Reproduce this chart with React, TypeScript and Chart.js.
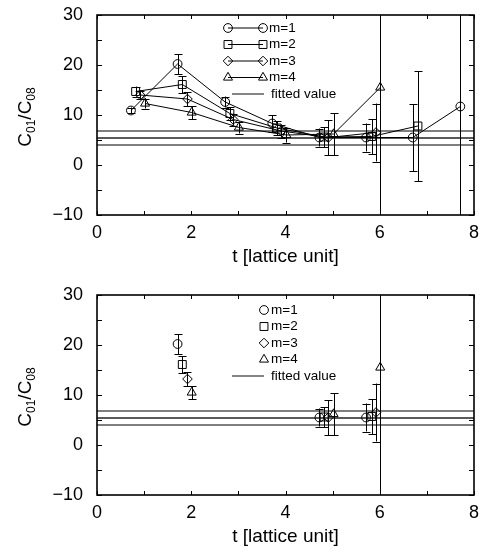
import React, { useEffect, useRef } from "react";
import { Chart, registerables } from "chart.js";
import { drawPoint } from "chart.js/helpers";

Chart.register(...registerables);

const FONT = "'Liberation Sans', Arial, Helvetica, sans-serif";

// ---- data ----
const seriesLabels = ["m=1", "m=2", "m=3", "m=4"];
const pointStyles = ["circle", "rect", "rectRot", "triangle"];
const pointRadii = [4.4, 5.6, 4.8, 5.2];

const tM1 = [0.72, 1.71, 2.72, 3.72, 4.72, 5.71, 6.7, 7.71];
const vM1 = [10.9, 20.2, 12.6, 8.3, 5.5, 5.5, 5.5, 11.7];
const eM1 = [0.6, 2.0, 1.1, 1.7, 1.8, 2.8, 6.7, 60];

const tM2 = [0.82, 1.81, 2.82, 3.82, 4.82, 5.83, 6.81];
const vM2 = [14.7, 16.1, 10.3, 7.4, 5.6, 5.7, 7.8];
const eM2 = [1.0, 1.7, 1.3, 1.4, 2.0, 3.5, 11.0];

const tM3 = [0.92, 1.92, 2.89, 3.91, 4.91, 5.92];
const vM3 = [14.0, 13.2, 9.1, 6.8, 5.5, 6.5];
const eM3 = [0.8, 1.4, 1.2, 1.3, 3.5, 5.8];

const tM4 = [1.02, 2.01, 3.01, 4.02, 5.02, 6.01];
const vM4 = [12.3, 10.5, 7.5, 6.0, 6.2, 15.5];
const eM4 = [1.0, 1.3, 1.2, 1.5, 4.2, 60];

// indices of points that are kept in the lower panel
const lowerPanelIdx = [1, 4, 5];

const fitValue = 5.4;
const fitError = 1.4;
const fitLabel = "fitted value";

const xTickLabels = [0, 2, 4, 6, 8];
const yTickLabels = [-10, 0, 10, 20, 30];
const xTitle = "t [lattice unit]";
const yTitleParts = ["C", "01", "/C", "08"];

const seriesT = [tM1, tM2, tM3, tM4];
const seriesV = [vM1, vM2, vM3, vM4];
const seriesE = [eM1, eM2, eM3, eM4];

// ---- layout constants ----
const PLOT_LEFT = 97;
const PLOT_TOP = 15;
const PLOT_BOTTOM = 215;
const RIGHT_PAD = 6;

const framePlugin = {
  id: "frameTicks",
  afterDraw(chart: any) {
    const { ctx, chartArea, scales } = chart;
    const { left, right, top, bottom } = chartArea;
    const x = scales.x;
    const y = scales.y;
    ctx.save();
    ctx.strokeStyle = "#000";
    ctx.lineWidth = 1;
    ctx.beginPath();
    x.ticks.forEach((t: any) => {
      const px = Math.round(x.getPixelForValue(t.value)) + 0.5;
      ctx.moveTo(px, bottom);
      ctx.lineTo(px, bottom - 4);
      ctx.moveTo(px, top);
      ctx.lineTo(px, top + 4);
    });
    y.ticks.forEach((t: any) => {
      const py = Math.round(y.getPixelForValue(t.value)) + 0.5;
      ctx.moveTo(left, py);
      ctx.lineTo(left + 5, py);
      ctx.moveTo(right, py);
      ctx.lineTo(right - 5, py);
    });
    ctx.stroke();
    ctx.lineWidth = 1.6;
    ctx.strokeRect(left, top, right - left, bottom - top);

    // x title
    ctx.fillStyle = "#000";
    ctx.font = `19px ${FONT}`;
    ctx.textAlign = "center";
    ctx.textBaseline = "middle";
    ctx.fillText(xTitle, (left + right) / 2, 257);

    // y title with subscripts, rotated
    const big = `19px ${FONT}`;
    const small = `12px ${FONT}`;
    const widths: number[] = yTitleParts.map((p, i) => {
      ctx.font = i % 2 === 0 ? big : small;
      return ctx.measureText(p).width;
    });
    const total = widths.reduce((a, b) => a + b, 0);
    ctx.translate(31, (top + bottom) / 2 + 2);
    ctx.rotate(-Math.PI / 2);
    ctx.textAlign = "left";
    ctx.textBaseline = "alphabetic";
    let cx = -total / 2;
    yTitleParts.forEach((p, i) => {
      ctx.font = i % 2 === 0 ? big : small;
      ctx.fillText(p, cx, i % 2 === 0 ? 0 : 4);
      cx += widths[i];
    });
    ctx.restore();
  },
};

const errorBarPlugin = {
  id: "errorBars",
  afterDatasetsDraw(chart: any) {
    const { ctx, chartArea, scales } = chart;
    const y = scales.y;
    ctx.save();
    ctx.beginPath();
    ctx.rect(chartArea.left, chartArea.top, chartArea.right - chartArea.left, chartArea.bottom - chartArea.top);
    ctx.clip();
    ctx.strokeStyle = "#000";
    ctx.lineWidth = 1;
    chart.data.datasets.forEach((ds: any, i: number) => {
      if (!ds.errorBars) return;
      const meta = chart.getDatasetMeta(i);
      ds.data.forEach((pt: any, j: number) => {
        const el = meta.data[j];
        const e = ds.errorBars[j];
        const px = Math.round(el.x) + 0.5;
        const yLo = y.getPixelForValue(pt.y - e);
        const yHi = y.getPixelForValue(pt.y + e);
        ctx.beginPath();
        ctx.moveTo(px, yLo);
        ctx.lineTo(px, yHi);
        ctx.moveTo(px - 4, Math.round(yLo) + 0.5);
        ctx.lineTo(px + 4, Math.round(yLo) + 0.5);
        ctx.moveTo(px - 4, Math.round(yHi) + 0.5);
        ctx.lineTo(px + 4, Math.round(yHi) + 0.5);
        ctx.stroke();
      });
    });
    ctx.restore();
  },
};

const legendPlugin = {
  id: "customLegend",
  afterDraw(chart: any) {
    const lower = chart.options.plugins.customLegend.lower;
    const { ctx } = chart;
    ctx.save();
    ctx.font = `13.5px ${FONT}`;
    ctx.textBaseline = "middle";
    ctx.textAlign = "left";
    ctx.fillStyle = "#000";
    ctx.strokeStyle = "#000";
    const rowStep = 16.5;
    const y0 = lower ? 30 : 28;
    seriesLabels.forEach((lab, i) => {
      const ry = y0 + i * rowStep;
      const opts = { pointStyle: pointStyles[i], rotation: 0, radius: pointRadii[i], borderWidth: 1 };
      ctx.lineWidth = 1;
      ctx.fillStyle = "rgba(0,0,0,0)";
      if (!lower) {
        ctx.beginPath();
        ctx.moveTo(228, ry);
        ctx.lineTo(263, ry);
        ctx.stroke();
        drawPoint(ctx, opts as any, 228, ry);
        drawPoint(ctx, opts as any, 263, ry);
      } else {
        drawPoint(ctx, opts as any, 264, ry);
      }
      ctx.fillStyle = "#000";
      ctx.fillText(lab, lower ? 271 : 269, ry);
    });
    const fy = y0 + 4 * rowStep;
    ctx.strokeStyle = "#333";
    ctx.lineWidth = 1.2;
    ctx.beginPath();
    ctx.moveTo(232, fy);
    ctx.lineTo(264, fy);
    ctx.stroke();
    ctx.fillStyle = "#000";
    ctx.fillText(fitLabel, 271, fy);
    ctx.restore();
  },
};

function makeConfig(lower: boolean, height: number): any {
  const datasets: any[] = [];
  seriesLabels.forEach((lab, i) => {
    const t = seriesT[i];
    const v = seriesV[i];
    const e = seriesE[i];
    const idx = lower ? lowerPanelIdx.filter((k) => k < t.length) : t.map((_, k) => k);
    datasets.push({
      label: lab,
      data: idx.map((k) => ({ x: t[k], y: v[k] })),
      errorBars: idx.map((k) => e[k]),
      showLine: !lower,
      borderColor: "#000",
      borderWidth: 1,
      pointStyle: pointStyles[i],
      pointRadius: pointRadii[i],
      pointBorderWidth: 1,
      pointBorderColor: "#000",
      pointBackgroundColor: "rgba(0,0,0,0)",
      backgroundColor: "rgba(0,0,0,0)",
      fill: false,
      tension: 0,
    });
  });
  [-1, 0, 1].forEach((k) => {
    datasets.push({
      label: k === 0 ? fitLabel : "",
      data: [
        { x: 0, y: fitValue + k * fitError },
        { x: 8, y: fitValue + k * fitError },
      ],
      showLine: true,
      borderColor: k === 0 ? "#222" : "#555",
      borderWidth: 1.3,
      pointRadius: 0,
      fill: false,
    });
  });

  return {
    type: "scatter",
    data: { datasets },
    options: {
      responsive: false,
      animation: false,
      devicePixelRatio: 1,
      events: [],
      layout: { autoPadding: false, padding: { top: PLOT_TOP, right: RIGHT_PAD, left: 0, bottom: 0 } },
      plugins: {
        legend: { display: false },
        tooltip: { enabled: false },
        customLegend: { lower },
      },
      scales: {
        x: {
          type: "linear",
          min: 0,
          max: 8,
          grid: { display: false, drawTicks: false },
          border: { display: false },
          ticks: {
            stepSize: 1,
            padding: 7,
            color: "#000",
            font: { family: FONT, size: 18 },
            maxRotation: 0,
            autoSkip: false,
            callback: (val: any) => (xTickLabels.includes(val) ? String(val) : ""),
          },
          afterFit: (scale: any) => {
            scale.height = height - PLOT_BOTTOM;
            scale.paddingLeft = 0;
            scale.paddingRight = 0;
          },
        },
        y: {
          type: "linear",
          min: -10,
          max: 30,
          grid: { display: false, drawTicks: false },
          border: { display: false },
          ticks: {
            stepSize: 5,
            padding: 14,
            color: "#000",
            font: { family: FONT, size: 18 },
            autoSkip: false,
            callback: (val: any) =>
              yTickLabels.includes(val) ? (val < 0 ? "\u2212" + Math.abs(val) : String(val)) : "",
          },
          afterFit: (scale: any) => {
            scale.width = PLOT_LEFT;
            scale.paddingTop = 0;
            scale.paddingBottom = 0;
          },
        },
      },
    },
    plugins: [errorBarPlugin, framePlugin, legendPlugin],
  };
}

function Panel({ lower, height, top }: { lower: boolean; height: number; top: number }) {
  const ref = useRef<HTMLCanvasElement>(null);
  useEffect(() => {
    const chart = new Chart(ref.current as HTMLCanvasElement, makeConfig(lower, height));
    return () => chart.destroy();
  }, [lower, height]);
  return (
    <canvas
      ref={ref}
      width={480}
      height={height}
      style={{ position: "absolute", left: 0, top, width: 480, height, display: "block" }}
    />
  );
}

export default function App() {
  return (
    <div
      style={{
        position: "absolute",
        left: 0,
        top: 0,
        width: 480,
        height: 552,
        background: "#fff",
        overflow: "hidden",
      }}
    >
      <Panel lower={false} height={280} top={0} />
      <Panel lower={true} height={272} top={280} />
    </div>
  );
}
